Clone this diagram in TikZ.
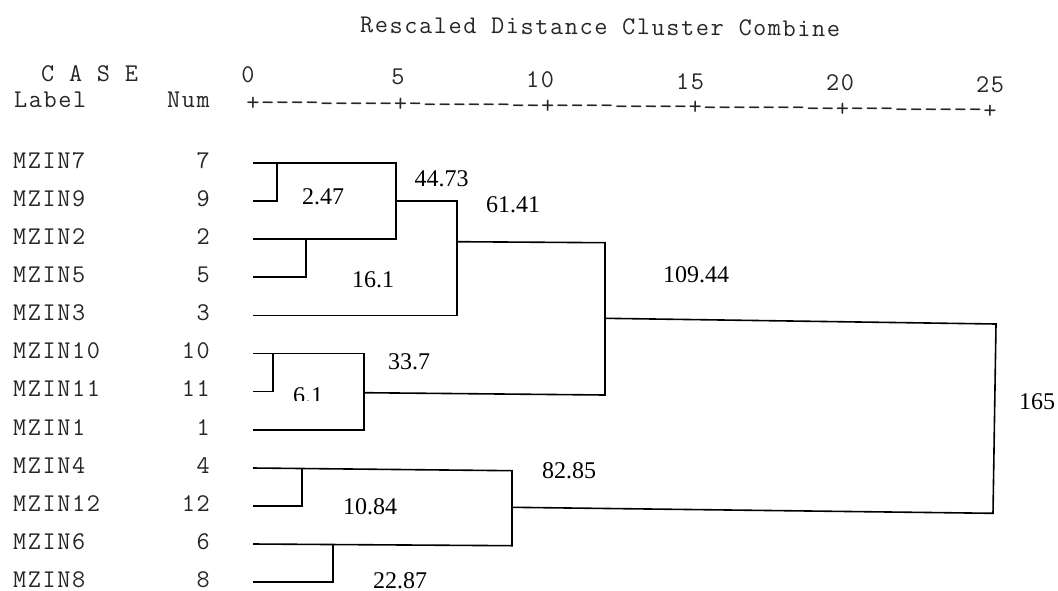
\documentclass[tikz,border=0pt]{standalone}
\usepackage{fontspec}
\setmainfont{Liberation Serif}
\newfontfamily\spssfont[LetterSpace=6.3]{Latin Modern Mono}
\usepackage{tikz}
\tikzset{
   branch/.style={draw=black, line width=1.6pt},
   spss/.style={font=\spssfont\fontsize{25.5}{27}\selectfont, text=black!85, inner sep=0pt},
   caselabel/.style={spss, anchor=west},
   casenum/.style={spss, anchor=east},
   dist/.style={font=\fontsize{24}{26}\selectfont, inner sep=0pt},
    }
\begin{document}
\begin{tikzpicture}[x=1pt,y=-1pt]
            \useasboundingbox (0,0) rectangle (1058,590);
            % header
            \node[spss, anchor=west, rotate=-0.45] (title) at (360,25) {Rescaled Distance Cluster Combine};
            \node[caselabel] (case) at (41,73.5) {C A S E};
            \node[caselabel] (label) at (14,100) {Label};
            \node[casenum] (num) at (210,100) {Num};
            \node[spss] (t0) at (248,75) {0};
            \node[spss] (t5) at (398,77) {5};
            \node[spss] (t10) at (540,80) {10};
            \node[spss] (t15) at (690,82) {15};
            \node[spss] (t20) at (840,83) {20};
            \node[spss] (t25) at (990,85) {25};
            \node[spss, rotate=-0.6] (axis) at (621.5,107.5) {+---------+---------+---------+---------+---------+};
            % cases
            \node[caselabel] (mzin7) at (13,160.5) {MZIN7};
            \node[caselabel] (mzin9) at (13,198.5) {MZIN9};
            \node[caselabel] (mzin2) at (13,236.5) {MZIN2};
            \node[caselabel] (mzin5) at (13,274.5) {MZIN5};
            \node[caselabel] (mzin3) at (13,313) {MZIN3};
            \node[caselabel] (mzin10) at (13,351) {MZIN10};
            \node[caselabel] (mzin11) at (13,389) {MZIN11};
            \node[caselabel] (mzin1) at (13,427.5) {MZIN1};
            \node[caselabel] (mzin4) at (13,465.5) {MZIN4};
            \node[caselabel] (mzin12) at (13,503.5) {MZIN12};
            \node[caselabel] (mzin6) at (13,541.5) {MZIN6};
            \node[caselabel] (mzin8) at (13,579.5) {MZIN8};
            \node[casenum] (num7) at (210,160.5) {7};
            \node[casenum] (num9) at (210,198.5) {9};
            \node[casenum] (num2) at (210,236.5) {2};
            \node[casenum] (num5) at (210,274.5) {5};
            \node[casenum] (num3) at (210,313) {3};
            \node[casenum] (num10) at (210,351) {10};
            \node[casenum] (num11) at (210,389) {11};
            \node[casenum] (num1) at (210,427.5) {1};
            \node[casenum] (num4) at (210,465.5) {4};
            \node[casenum] (num12) at (210,503.5) {12};
            \node[casenum] (num6) at (210,541.5) {6};
            \node[casenum] (num8) at (210,579.5) {8};
            % branch ends
            \coordinate (s7) at (253,163);
            \coordinate (s9) at (253,201);
            \coordinate (s2) at (253,239);
            \coordinate (s5) at (253,277);
            \coordinate (s3) at (253,315.5);
            \coordinate (s10) at (253,353.5);
            \coordinate (s11) at (253,391.5);
            \coordinate (s1) at (253,430);
            \coordinate (s4) at (253,468);
            \coordinate (s12) at (253,506);
            \coordinate (s6) at (253,544);
            \coordinate (s8) at (253,582);
            % joins
            \coordinate (j247) at (277,163);
            \coordinate (j161) at (306,239);
            \coordinate (j4473t) at (396,163);
            \coordinate (j4473b) at (396,239);
            \coordinate (j4473) at (396,201);
            \coordinate (j6141t) at (457,201);
            \coordinate (j6141b) at (457,315.5);
            \coordinate (j6141) at (457,241.7);
            \coordinate (j61) at (273,353.5);
            \coordinate (j337t) at (364,353.5);
            \coordinate (j337b) at (364,430);
            \coordinate (j337) at (364,392.7);
            \coordinate (j10944t) at (605,242.7);
            \coordinate (j10944b) at (605,395);
            \coordinate (j10944) at (605,318.3);
            \coordinate (j1084) at (302,468);
            \coordinate (j2287) at (333,544);
            \coordinate (j8285t) at (512,470.7);
            \coordinate (j8285b) at (512,545.7);
            \coordinate (j8285) at (512,507.3);
            \coordinate (j165t) at (996,324);
            \coordinate (j165b) at (993,513.3);
            \draw[branch](s7)--(j4473t)--(j4473b)--(s2);
            \draw[branch](s9)-|(j247);
            \draw[branch](s5)-|(j161);
            \draw[branch](j4473)--(j6141t)--(j6141b)--(s3);
            \draw[branch](s10)--(j337t)--(j337b)--(s1);
            \draw[branch](s11)-|(j61);
            \draw[branch](j6141)--(j10944t)--(j10944b)--(j337);
            \draw[branch](s4)--(j8285t)--(j8285b)--(s6);
            \draw[branch](s12)-|(j1084);
            \draw[branch](s8)-|(j2287);
            \draw[branch](j10944)--(j165t)--(j165b)--(j8285);
            % distances
            \node[dist] (d247) at (323,197) {2.47};
            \node[dist] (d4473) at (441.5,179) {44.73};
            \node[dist] (d6141) at (513,205) {61.41};
            \node[dist] (d161) at (373,280) {16.1};
            \node[dist] (d10944) at (696,275) {109.44};
            \node[dist] (d337) at (409,362) {33.7};
            \begin{scope}
            \clip (280,375) rectangle (345,400);
            \node[dist] (d61) at (308,395.5) {6.1};
            \end{scope}
            \node[dist] (d165) at (1037,402) {165};
            \node[dist] (d8285) at (569,471) {82.85};
            \node[dist] (d1084) at (370,507) {10.84};
            \node[dist] (d2287) at (400,581) {22.87};
            
        \end{tikzpicture}
\end{document}
